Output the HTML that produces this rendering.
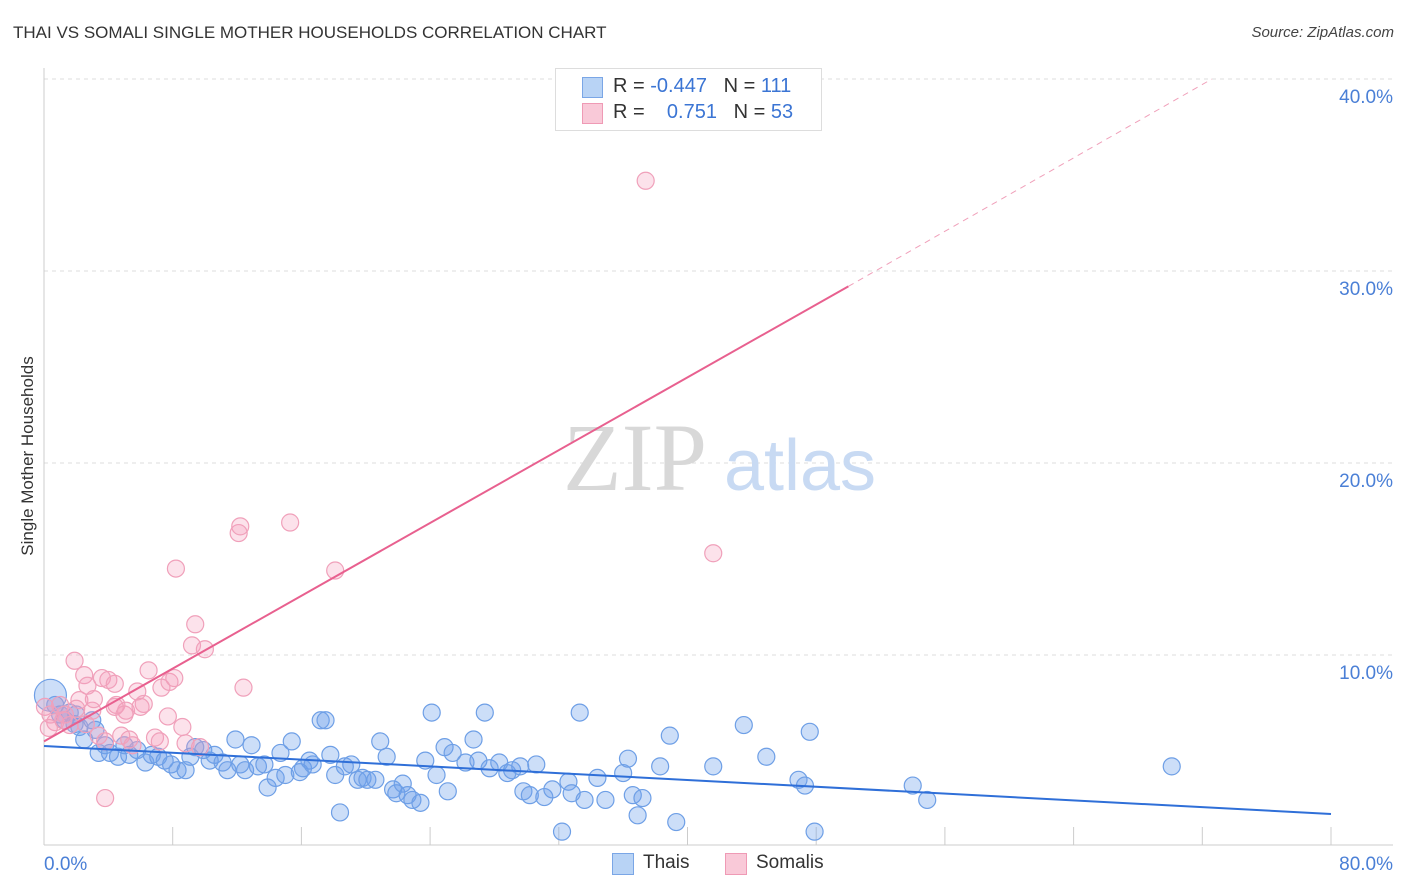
<!DOCTYPE html>
<html><head><meta charset="utf-8"><style>
body{margin:0;background:#fff;font-family:"Liberation Sans",sans-serif;}
#wrap{position:relative;width:1406px;height:892px;overflow:hidden;}
.t{position:absolute;white-space:nowrap;}
</style></head><body>
<div id="wrap">
<div class="t" style="left:13px;top:23px;font-size:17px;color:#333;">THAI VS SOMALI SINGLE MOTHER HOUSEHOLDS CORRELATION CHART</div>
<div class="t" style="right:12px;top:24px;font-size:15px;color:#444;font-style:italic;">Source: ZipAtlas.com</div>
<div class="t" style="left:28px;top:456px;font-size:17px;color:#333;transform:translate(-50%,-50%) rotate(-90deg);">Single Mother Households</div>
<svg id="svg" width="1406" height="892" style="position:absolute;left:0;top:0"></svg>
<div style="position:absolute;left:555px;top:68px;width:265px;height:61px;border:1px solid #ddd;background:#fff;font-size:20px;color:#333;">
  <div style="position:absolute;left:26px;top:8px;width:19px;height:19px;background:#b8d3f5;border:1px solid #7aa6e6;"></div>
  <div class="t" style="left:57px;top:6px;">R = <span style="color:#3b75d4">-0.447</span>&nbsp;&nbsp;&nbsp;N = <span style="color:#3b75d4">111</span></div>
  <div style="position:absolute;left:26px;top:34px;width:19px;height:19px;background:#f9c9d8;border:1px solid #ef9ab5;"></div>
  <div class="t" style="left:57px;top:32px;">R = &nbsp;&nbsp;&nbsp;<span style="color:#3b75d4">0.751</span>&nbsp;&nbsp;&nbsp;N = <span style="color:#3b75d4">53</span></div>
</div>
<div style="position:absolute;left:612px;top:853px;width:20px;height:20px;background:#b8d3f5;border:1px solid #7aa6e6;"></div>
<div class="t" style="left:643px;top:852px;font-size:19px;color:#333;">Thais</div>
<div style="position:absolute;left:725px;top:853px;width:20px;height:20px;background:#f9c9d8;border:1px solid #ef9ab5;"></div>
<div class="t" style="left:756px;top:852px;font-size:19px;color:#333;">Somalis</div>
</div>
<script>
const yTicks=[10,20,30,40];
const yTickLabels=["10.0%","20.0%","30.0%","40.0%"];
const xTickLabels=["0.0%","80.0%"];
const thaiX=[0.4,0.7,1.0,1.3,1.6,1.9,2.2,2.5,3.0,3.4,3.8,4.1,4.6,5.0,5.3,5.8,6.3,6.7,7.1,7.5,7.9,8.3,8.8,9.1,9.4,9.9,10.3,10.6,11.1,11.4,11.9,12.2,12.5,12.9,13.3,13.7,13.9,14.4,14.7,15.0,15.4,15.9,16.1,16.5,16.7,17.2,17.5,17.8,18.1,18.4,18.7,19.1,19.5,19.8,20.1,20.6,20.9,21.3,21.7,21.9,22.3,22.6,22.9,23.4,23.7,24.1,24.4,24.9,25.1,25.4,26.2,26.7,27.0,27.4,27.7,28.3,28.8,29.1,29.6,29.8,30.2,30.6,31.1,31.6,32.2,32.6,32.8,33.3,33.6,34.4,34.9,36.0,36.3,36.6,36.9,37.2,38.3,38.9,39.3,41.6,43.5,44.9,46.9,47.3,47.6,47.9,54.0,54.9,70.1,2.0,3.2];
const thaiY=[7.9,7.4,6.9,6.6,7.0,6.4,6.25,5.6,6.6,4.9,5.3,4.9,4.7,5.3,4.8,5.05,4.4,4.8,4.7,4.5,4.3,4.0,4.0,4.7,5.2,5.05,4.5,4.8,4.4,4.0,5.6,4.3,4.0,5.3,4.2,4.3,3.1,3.6,4.9,3.75,5.5,3.9,4.1,4.5,4.3,6.6,6.6,4.8,3.75,1.8,4.2,4.3,3.5,3.6,3.5,3.5,5.5,4.7,3.0,2.8,3.3,2.7,2.45,2.3,4.5,7.0,3.75,5.2,2.9,4.9,4.4,5.6,4.5,7.0,4.1,4.4,3.85,4.0,4.2,2.9,2.7,4.3,2.6,3.0,0.8,3.4,2.8,7.0,2.45,3.6,2.45,3.85,4.6,2.7,1.65,2.55,4.2,5.8,1.3,4.2,6.35,4.7,3.5,3.2,6.0,0.8,3.2,2.45,4.2,6.9,6.1];
const somaliX=[0.06,0.4,0.7,1.0,1.3,1.6,1.9,2.2,2.5,2.7,3.0,3.4,3.6,3.8,4.0,4.4,4.5,4.8,5.1,5.3,5.5,5.8,6.2,6.5,6.9,7.2,7.3,7.7,7.8,8.1,8.2,8.6,8.8,9.2,9.4,9.7,10.0,12.1,12.2,12.4,15.3,18.1,37.4,41.6,3.8,4.4,2.0,1.2,5.0,3.1,0.3,6.0,2.6];
const somaliY=[7.3,6.9,6.5,7.4,6.9,6.35,9.7,7.65,8.95,8.4,7.1,5.8,8.8,5.5,8.7,8.5,7.4,5.8,7.1,5.6,5.3,8.1,7.45,9.2,5.7,5.5,8.3,6.8,8.6,8.8,14.5,6.25,5.4,10.5,11.6,5.2,10.3,16.35,16.7,8.3,16.9,14.4,34.7,15.3,2.55,7.3,7.2,6.6,6.9,7.7,6.2,7.3,6.4];
const X0=44,X1=1331,Y0=847,PY=19.2;
const xs=v=>X0+v*(X1-X0)/80, ys=v=>Y0-v*PY;
const svg=document.getElementById('svg');
const NS='http://www.w3.org/2000/svg';
function mk(tag,attrs,parent){const e=document.createElementNS(NS,tag);for(const k in attrs)e.setAttribute(k,attrs[k]);(parent||svg).appendChild(e);return e;}
yTicks.forEach((t,i)=>{
 const g=mk('line',{x1:44,x2:1393,y1:ys(t),y2:ys(t),stroke:'#ddd','stroke-dasharray':'4,4'});
 
 
 const tx=mk('text',{x:1393,y:ys(t)+24,'text-anchor':'end','font-size':19,fill:'#4a7fd6','font-family':'Liberation Sans, sans-serif'});
 tx.textContent=yTickLabels[i];
 
 
});
const ax=mk('line',{x1:44,x2:44,y1:68,y2:845,stroke:'#ccc'});


const bx=mk('line',{x1:44,x2:1393,y1:845,y2:845,stroke:'#ccc'});


for(let i=1;i<=10;i++){const l=mk('line',{x1:xs(i*8),x2:xs(i*8),y1:827,y2:845,stroke:'#ccc'});
 
 }
[[0,'start',44],[80,'end',1393]].forEach((a,i)=>{const t=mk('text',{x:a[2],y:870,'text-anchor':a[1],'font-size':19,fill:'#4a7fd6','font-family':'Liberation Sans, sans-serif'});t.textContent=xTickLabels[i];
 
 });
const w1=mk('text',{x:635,y:490,'text-anchor':'middle','font-size':96,fill:'#d8d8d8','font-family':'Liberation Serif, serif'});w1.textContent='ZIP';


const w2=mk('text',{x:800,y:490,'text-anchor':'middle','font-size':72,fill:'#c8daf3','font-family':'Liberation Sans, sans-serif'});w2.textContent='atlas';


thaiX.forEach((x,i)=>{const c=mk('circle',{cx:xs(x),cy:ys(thaiY[i]),r:i==0?16:8.5,fill:'rgba(110,160,235,0.35)',stroke:'#6e9fe6','stroke-width':1.2});
 
 });
somaliX.forEach((x,i)=>{const c=mk('circle',{cx:xs(x),cy:ys(somaliY[i]),r:8.5,fill:'rgba(245,160,190,0.3)',stroke:'#f0a0ba','stroke-width':1.2});
 
 });
const tl=mk('line',{x1:xs(0),y1:ys(5.26),x2:xs(80),y2:ys(1.72),stroke:'#2f6fd8','stroke-width':2});


const sl=mk('line',{x1:xs(0),y1:ys(5.5),x2:xs(50),y2:ys(29.2),stroke:'#e8608f','stroke-width':2});


const sd=mk('line',{x1:xs(50),y1:ys(29.2),x2:xs(72.6),y2:ys(40),stroke:'#f0a0ba','stroke-width':1,'stroke-dasharray':'6,5'});


</script>
</body></html>
